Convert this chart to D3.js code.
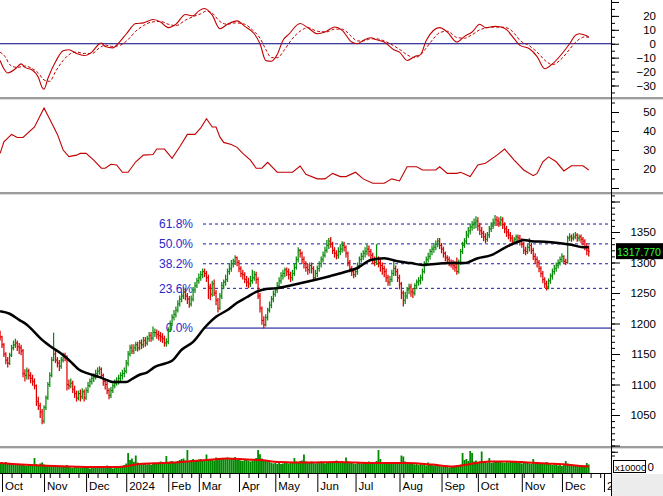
<!DOCTYPE html>
<html><head><meta charset="utf-8">
<script src="https://cdn.jsdelivr.net/npm/d3@7"></script>
<style>html,body{margin:0;padding:0;background:#fff;}svg{display:block;}</style>
</head><body><svg id="c" width="663" height="496"></svg>
<script>
// ---------- DATA (trading-day index i: -1 = 2023-09-29 ... 307 = 2024-12-20) ----------
const closes = [1178,
1165,1150,1140,1135,1148,1160,1165,1168,1162,1160,
1155,1118,1115,1122,1115,1110,1105,1098,1072,1065,
1055,1040,1062,1078,1100,1115,1140,1150,1140,1135,
1130,1140,1148,1145,1100,1098,1102,1092,1085,1078,
1085,1080,1088,1078,1090,1098,1105,1110,1112,1118,
1122,1125,1115,1105,1100,1090,1082,1090,1098,1102,
1105,1110,1115,1118,1122,1135,1150,1160,1155,1160,
1165,1160,1168,1165,1172,1168,1175,1180,1176,1185,
1185,1182,1180,1178,1175,1168,1170,1190,1200,1210,
1215,1222,1232,1240,1245,1252,1245,1240,1232,1240,
1255,1262,1270,1275,1280,1285,1282,1275,1260,1248,
1265,1250,1238,1225,1245,1262,1268,1272,1285,1290,
1298,1302,1308,1300,1290,1282,1280,1272,1268,1265,
1270,1275,1280,1272,1245,1225,1205,1198,1210,1222,
1230,1240,1248,1255,1262,1270,1278,1282,1288,1285,
1280,1275,1282,1292,1305,1320,1315,1305,1298,1292,
1288,1295,1290,1275,1282,1290,1298,1305,1312,1320,
1328,1335,1330,1320,1315,1312,1318,1322,1328,1325,
1315,1300,1290,1285,1280,1285,1295,1305,1310,1315,
1318,1322,1318,1312,1305,1300,1305,1300,1295,1290,
1285,1275,1268,1272,1282,1290,1285,1275,1265,1250,
1238,1245,1255,1260,1252,1250,1262,1268,1270,1275,
1285,1298,1305,1310,1318,1322,1325,1330,1335,1328,
1322,1315,1308,1305,1300,1298,1295,1292,1285,1300,
1318,1328,1335,1345,1352,1358,1362,1365,1368,1360,
1352,1348,1342,1338,1345,1355,1360,1365,1370,1368,
1365,1370,1362,1355,1350,1345,1340,1335,1338,1342,
1340,1335,1330,1320,1318,1325,1328,1320,1310,1305,
1300,1290,1282,1272,1265,1260,1270,1278,1285,1290,
1295,1300,1305,1310,1302,1300,1340,1342,1340,1342,
1345,1340,1342,1338,1335,1325,1320,1317.77];
const highs = [1188,
1180,1168,1153,1145,1152,1165,1172,1175,1172,1168,
1165,1158,1125,1128,1126,1120,1116,1110,1100,1080,
1070,1060,1066,1082,1104,1120,1145,1185,1155,1145,
1140,1145,1152,1152,1148,1108,1110,1106,1098,1090,
1090,1092,1094,1092,1095,1104,1110,1115,1118,1124,
1128,1130,1128,1118,1110,1104,1094,1096,1102,1108,
1112,1116,1120,1124,1128,1140,1155,1165,1166,1166,
1170,1170,1173,1174,1178,1178,1180,1186,1186,1195,
1192,1190,1188,1186,1184,1180,1176,1194,1205,1215,
1222,1228,1238,1246,1252,1260,1258,1250,1245,1246,
1260,1268,1275,1282,1286,1290,1290,1286,1280,1265,
1270,1272,1255,1242,1250,1268,1272,1280,1290,1298,
1304,1306,1312,1310,1304,1294,1288,1284,1278,1275,
1278,1288,1286,1285,1276,1250,1228,1212,1215,1226,
1236,1245,1254,1260,1268,1276,1284,1288,1292,1292,
1290,1285,1288,1298,1310,1325,1322,1318,1310,1302,
1298,1300,1300,1294,1288,1295,1302,1310,1318,1326,
1337,1340,1342,1334,1325,1320,1325,1330,1335,1334,
1328,1318,1304,1294,1290,1290,1300,1310,1316,1320,
1325,1330,1328,1322,1316,1310,1330,1310,1306,1300,
1295,1290,1280,1278,1288,1304,1295,1290,1280,1268,
1254,1252,1260,1265,1265,1258,1266,1272,1276,1280,
1290,1302,1310,1316,1322,1328,1332,1336,1340,1340,
1332,1326,1318,1312,1310,1305,1304,1302,1308,1305,
1322,1334,1340,1352,1358,1364,1368,1372,1376,1374,
1365,1358,1352,1348,1350,1360,1366,1372,1378,1376,
1374,1376,1374,1366,1360,1355,1350,1345,1342,1346,
1346,1345,1340,1334,1326,1330,1340,1332,1324,1315,
1310,1304,1294,1286,1276,1270,1274,1282,1290,1296,
1300,1305,1310,1315,1312,1306,1344,1348,1346,1348,
1350,1348,1346,1346,1342,1338,1332,1328];
const lows = [1172,
1160,1145,1133,1128,1132,1145,1156,1160,1155,1150,
1148,1112,1105,1108,1108,1102,1098,1092,1065,1058,
1045,1035,1036,1058,1075,1096,1112,1138,1135,1128,
1122,1126,1136,1138,1090,1092,1094,1086,1078,1072,
1074,1072,1076,1072,1075,1086,1095,1100,1104,1108,
1114,1116,1110,1098,1092,1084,1076,1078,1086,1094,
1098,1100,1104,1108,1112,1118,1130,1146,1150,1150,
1155,1154,1156,1158,1160,1162,1164,1170,1170,1172,
1178,1175,1172,1170,1168,1162,1162,1166,1186,1196,
1205,1210,1218,1228,1235,1240,1238,1232,1226,1228,
1236,1250,1258,1265,1270,1274,1276,1268,1240,1238,
1244,1245,1230,1218,1222,1240,1256,1262,1268,1280,
1285,1292,1296,1294,1284,1276,1272,1266,1260,1258,
1260,1265,1270,1265,1240,1218,1198,1192,1195,1205,
1218,1225,1235,1244,1250,1258,1265,1272,1276,1278,
1272,1268,1270,1278,1288,1300,1308,1298,1290,1285,
1280,1282,1282,1270,1272,1276,1285,1292,1300,1308,
1316,1322,1324,1314,1308,1305,1306,1312,1316,1318,
1308,1294,1284,1278,1274,1276,1280,1290,1300,1304,
1308,1312,1310,1305,1298,1294,1296,1292,1285,1280,
1276,1268,1262,1262,1268,1278,1278,1268,1256,1240,
1228,1232,1240,1248,1244,1242,1246,1256,1262,1264,
1270,1282,1294,1300,1305,1312,1316,1320,1325,1322,
1315,1308,1302,1298,1294,1292,1288,1285,1280,1282,
1296,1314,1324,1330,1340,1346,1352,1355,1356,1352,
1345,1340,1335,1332,1334,1340,1350,1355,1360,1360,
1358,1360,1355,1348,1342,1338,1334,1328,1330,1332,
1334,1328,1324,1314,1312,1314,1318,1314,1304,1298,
1292,1284,1276,1266,1258,1254,1256,1265,1272,1280,
1285,1290,1295,1300,1298,1296,1298,1335,1334,1336,
1338,1334,1335,1332,1328,1320,1312,1310];
const firstOpen = 1185;
const volumes = [40,
42,36,44,38,36,40,38,34,36,34,
32,36,30,28,32,30,28,60,36,30,
38,42,34,30,28,30,26,24,30,28,
26,24,28,26,32,24,22,20,24,26,
24,20,26,22,28,20,18,24,22,26,
22,20,24,28,25,30,23,20,18,22,
20,24,26,28,32,38,80,52,58,45,
70,42,38,35,40,36,34,38,32,40,
40,38,42,46,44,44,68,42,46,48,
44,42,48,52,56,58,50,92,48,52,
56,50,50,54,56,48,52,74,56,54,
52,50,62,54,56,58,60,58,62,56,
58,60,64,54,52,50,48,52,54,50,
46,50,54,60,92,75,58,52,48,46,
44,40,38,40,36,40,36,38,42,40,
38,44,42,60,46,44,48,50,74,46,
44,42,46,40,38,42,44,46,40,38,
42,40,44,46,48,50,46,44,48,44,
62,46,44,40,38,36,40,42,38,40,
42,44,46,40,38,44,48,92,56,44,
40,42,38,40,36,38,40,42,44,70,
66,46,42,40,36,38,34,36,32,36,
34,32,30,42,36,32,30,34,30,28,
26,24,28,26,22,24,26,24,28,30,
34,80,52,56,48,88,80,46,50,44,
46,86,48,44,42,60,40,42,44,46,
44,46,42,40,44,42,46,44,48,44,
42,40,38,44,40,40,38,36,56,38,
40,42,38,36,40,44,38,34,32,34,
32,30,34,28,32,48,38,34,32,30,
30,28,32,26,28,30,40,34];

// moving average of price (black line), read at sample days
const maDay = [-1,4,9,13,16,20,23,26,30,34,37,40,44,47,51,55,58,61,65,68,72,76,80,86,89,94,100,106,112,118,123,128,133,139,144,149,156,163,172,179,186,193,200,207,214,220,228,235,242,249,256,263,270,273,277,284,291,298,304,307];
const maVal = [1220,1216,1206,1198,1189,1176,1168,1161,1153,1143,1134,1125,1119,1116,1112,1107,1104,1104,1104,1109,1116,1120,1129,1135,1139,1157,1170,1193,1211,1222,1234,1243,1252,1257,1258,1261,1266,1271,1278,1284,1291,1304,1307,1302,1299,1296,1298,1299,1299,1307,1312,1324,1334,1337,1335,1334,1332,1329,1325,1325];

// oscillator (top panel): solid line and dashed signal line
const macdDay = [-1,1,3,7,10,12,16,19,21,22,24,28,32,35,39,43,47,51,52,54,58,61,65,70,74,79,83,87,91,96,100,103,106,110,114,118,123,127,132,135,138,141,144,147,150,156,160,165,169,174,178,183,186,189,193,196,200,205,208,212,216,219,222,229,233,238,242,246,250,253,258,261,264,268,271,276,280,284,288,293,297,300,302,304,307];
const macdVal = [-12,-18,-21,-18,-14.5,-17,-19,-24,-31.4,-32.6,-25,-13,-5,-4.3,-7,-8.5,-6,0,0.5,-2,-3,0.5,7,14.5,15,17.4,15.6,11.6,14,21,20,23.6,25.3,20.5,10.8,14,16.4,12.5,7.2,0,-12,-12.6,-7.8,2.4,6.7,14.5,11.6,7.2,8.4,12,9.6,1.2,0,2.4,4.3,2.9,1.2,-4.3,-6,-12,-9.2,-7.8,2.4,11.6,8.4,1.2,5.3,8.4,14,11.6,12.5,12,10.1,3.6,-1.2,-3.6,-9.2,-18,-14.5,-7.2,0,6,7.2,6.7,5];
const sigDay = [-1,2,4,8,12,16,19,22,25,28,32,36,39,43,47,51,54,58,62,66,70,74,78,83,87,91,96,100,104,107,110,114,118,122,127,131,135,138,141,144,148,151,156,160,165,170,174,178,183,186,189,193,196,200,205,208,212,216,219,222,226,229,233,238,242,246,250,254,258,261,265,268,271,276,280,285,288,293,297,300,303,305,307];
const sigVal = [-6,-10,-15,-17,-16,-18,-21,-26,-27,-20,-12,-7,-6,-7,-7,-3,-1,-2,-1,3,9,13,15.5,16,14,13,17,19.5,21.5,23.5,22,16,14,15,14,10,4,-4,-10,-10,-4,2,9,11.5,9,8.5,10.5,10.5,5,2,2,3.5,3.5,2,-1.5,-4,-8,-10,-8,-3,4,8,9,4.5,4,6.5,10,11.5,12,12,11,7.5,2.5,-1.5,-6,-13,-15,-10.5,-4,1,4,5,4.5];

// trend-strength line (second panel)
const adxDay = [-1,1,5,8,11,17,22,25,29,32,35,39,41,44,48,52,54,57,60,63,66,70,74,79,81,85,89,93,97,101,104,107,110,112,114,116,120,123,126,130,133,136,139,144,152,156,159,165,169,173,177,180,185,189,194,200,204,208,212,217,220,227,229,233,238,240,245,249,253,259,263,268,273,278,280,283,286,290,294,298,304,307];
const adxVal = [28.2,34.3,38.2,36.6,36.6,42.1,52.1,46.2,38.2,30,26.5,27.3,28.2,28.2,24.7,20.4,20.4,22.5,22.1,18.3,18.3,23.8,27.3,27.6,30.5,30.5,25.6,31.7,38.2,38.2,41.6,46.5,42.1,42.1,36.9,34,32.9,31.4,28.2,24.7,20.4,20.4,23.5,18.3,18.3,21.6,17.2,14.8,14.8,17.7,16,16,18.3,14.8,12.5,12.5,14.8,13.7,21.2,21.2,19.5,19.5,21.2,17.7,17.7,18.3,16,22.1,23,27.3,30.5,24.7,19.5,16.5,17.7,23.8,26.4,23.8,19,21.7,21.7,19.5];

// volume moving average (red line in volume panel)
const vmaDay = [-1,10,20,35,50,60,66,72,85,97,107,118,128,135,145,160,175,185,200,212,225,236,245,255,265,275,285,295,300,307];
const vmaVal = [40,34,30,26,24,24,28,36,40,46,52,58,54,52,44,42,44,42,40,40,34,26,36,46,46,42,38,34,30,26];

// Fibonacci retracement
const fibLow = 1192.5, fibHigh = 1468.5;
const fibRatios = [0, 0.236, 0.382, 0.5, 0.618];
const fibLabels = ["0.0%", "23.6%", "38.2%", "50.0%", "61.8%"];

// axis tick labels
const macdTicks = [-30,-20,-10,0,10,20];
const adxTicks = [20,30,40,50];
const priceTicks = [1050,1100,1150,1200,1250,1300,1350];
const lastPriceLabel = "1317.770";
const volUnit = "x10000";
const monthNames = ["Jan","Feb","Mar","Apr","May","Jun","Jul","Aug","Sep","Oct","Nov","Dec"];
const holidays = ["2024-01-01","2024-02-08","2024-02-09","2024-02-12","2024-02-13","2024-02-14","2024-04-18","2024-04-29","2024-04-30","2024-05-01","2024-09-02","2024-09-03"];

// ---------- DRAWING ----------
const FONT = '"Liberation Sans", Arial, sans-serif';
const svg = d3.select("#c");
const AX = 611;
const N = closes.length;
const opens = [firstOpen].concat(closes.slice(0, N - 1)); // session open = previous close

// trading calendar (categories)
const fmt = d3.utcFormat("%Y-%m-%d");
const hol = new Set(holidays);
const days = [];
for (let t = Date.UTC(2023, 8, 29); t <= Date.UTC(2025, 0, 3); t += 864e5) {
  const d = new Date(t), wd = d.getUTCDay();
  if (wd === 0 || wd === 6) continue;
  if (d < Date.UTC(2024, 11, 21) && hol.has(fmt(d))) continue;
  days.push(d);
}
const dayIdx = k => k - 1;

const x = d3.scaleLinear().domain([0, 307]).range([2, 588.7]);
const yM = d3.scaleLinear().domain([-30, 20]).range([85.5, 15.9]);
const yA = d3.scaleLinear().domain([20, 50]).range([169, 112]);
const yP = d3.scaleLinear().domain([1050, 1350]).range([415, 232]);
const yV = d3.scaleLinear().domain([0, 100]).range([473, 448]);

const defs = svg.append("defs");
function clip(id, x0, y0, w, h) {
  defs.append("clipPath").attr("id", id).append("rect").attr("x", x0).attr("y", y0).attr("width", w).attr("height", h);
  return svg.append("g").attr("clip-path", `url(#${id})`);
}
const gM = clip("cm", 0, 0, AX, 97);
const gA = clip("ca", 0, 100, AX, 92);
const gP = clip("cp", 0, 195, AX, 251);
const gV = clip("cv", 0, 448, AX, 25);

// --- top oscillator
gM.append("line").attr("x1", 0).attr("x2", AX).attr("y1", yM(0)).attr("y2", yM(0)).attr("stroke", "#000080").attr("stroke-width", 1);
const lineM = d3.line().x(d => x(d[0])).y(d => yM(d[1])).curve(d3.curveMonotoneX);
gM.append("path").attr("d", lineM(sigDay.map((d, i) => [d, sigVal[i]]))).attr("fill", "none").attr("stroke", "#c00000").attr("stroke-width", 1).attr("stroke-dasharray", "3,2");
gM.append("path").attr("d", lineM(macdDay.map((d, i) => [d, macdVal[i]]))).attr("fill", "none").attr("stroke", "#c00000").attr("stroke-width", 1.1);

// --- second panel
const lineA = d3.line().x(d => x(d[0])).y(d => yA(d[1]));
gA.append("path").attr("d", lineA(adxDay.map((d, i) => [d, adxVal[i]]))).attr("fill", "none").attr("stroke", "#c00000").attr("stroke-width", 1.1);

// --- price panel: fibonacci
fibRatios.forEach((r, j) => {
  const v = fibLow + r * (fibHigh - fibLow);
  const yy = yP(v);
  gP.append("line").attr("x1", 203).attr("x2", AX).attr("y1", yy).attr("y2", yy)
    .attr("stroke", r === 0 ? "#000090" : "#1a1aa0").attr("stroke-width", 1)
    .attr("stroke-dasharray", r === 0 ? null : "3,3");
  gP.append("text").attr("x", 193).attr("y", yy).attr("dy", "0.35em").attr("text-anchor", "end")
    .attr("font-family", FONT).attr("font-size", 12).attr("fill", "#2828c8").text(fibLabels[j]);
});

// OHLC bars
const bars = gP.append("g");
for (let k = 0; k < N; k++) {
  const i = dayIdx(k), xx = x(i);
  const up = closes[k] >= opens[k];
  const col = up ? "#0a8a0a" : "#e00000";
  bars.append("line").attr("x1", xx).attr("x2", xx).attr("y1", yP(highs[k])).attr("y2", yP(lows[k])).attr("stroke", col).attr("stroke-width", 1.25);
  bars.append("line").attr("x1", xx - 1.1).attr("x2", xx).attr("y1", yP(opens[k])).attr("y2", yP(opens[k])).attr("stroke", col).attr("stroke-width", 1);
  bars.append("line").attr("x1", xx).attr("x2", xx + 1.2).attr("y1", yP(closes[k])).attr("y2", yP(closes[k])).attr("stroke", col).attr("stroke-width", 1);
}
// moving average
gP.append("path").attr("d", d3.line().x(d => x(d[0])).y(d => yP(d[1])).curve(d3.curveMonotoneX)(maDay.map((d, i) => [d, maVal[i]])))
  .attr("fill", "none").attr("stroke", "#000").attr("stroke-width", 2.5);

// --- volume
gV.selectAll("rect.v").data(volumes).join("rect").attr("class", "v")
  .attr("x", (d, k) => x(dayIdx(k)) - 0.9).attr("width", 1.8)
  .attr("y", d => yV(d)).attr("height", d => yV(0) - yV(d)).attr("fill", "#008a00");
gV.append("path").attr("d", d3.line().x(d => x(d[0])).y(d => yV(d[1])).curve(d3.curveMonotoneX)(vmaDay.map((d, i) => [d, vmaVal[i]])))
  .attr("fill", "none").attr("stroke", "#ee0000").attr("stroke-width", 2);

// --- separators
[[97], [192], [446]].forEach(([yy]) => {
  svg.append("rect").attr("x", 0).attr("y", yy).attr("width", 663).attr("height", 2).attr("fill", "#9c9c9c");
  svg.append("rect").attr("x", 0).attr("y", yy + 2).attr("width", 663).attr("height", 1).attr("fill", "#dcdcdc");
});

// --- right axes
function rightAxis(scale, majors, minors, fmtf, minorLen, majorLen) {
  const g = svg.append("g").attr("transform", `translate(${AX},0)`);
  g.append("g").call(d3.axisRight(scale).tickValues(minors).tickSize(minorLen || 4).tickFormat(""));
  const gm = g.append("g").call(d3.axisRight(scale).tickValues(majors).tickSize(majorLen || 8).tickFormat(fmtf || d3.format("d")));
  g.selectAll(".domain").remove();
  g.selectAll("line").attr("stroke", "#000");
  gm.selectAll("text").attr("x", 45).attr("text-anchor", "end").attr("font-size", 11.5).attr("font-family", FONT).attr("fill", "#000");
  return g;
}
rightAxis(yM, macdTicks.concat([30]), d3.range(-35, 31, 5), d => d === 30 ? "" : d3.format("d")(d));
rightAxis(yA, adxTicks.concat([10]), d3.range(10, 56, 5), d => d === 10 ? "" : d3.format("d")(d));
rightAxis(yP, priceTicks.concat([1000, 1400]), d3.range(1000, 1411, 10), d => (d === 1000 || d === 1400) ? "" : d3.format("d")(d), 4, 9);
rightAxis(yV, [85], [70, 85], () => "", 4, 7);
svg.append("line").attr("x1", AX + 0.5).attr("x2", AX + 0.5).attr("y1", 0).attr("y2", 496).attr("stroke", "#000");

// volume unit label (box) and the visible tail of the tick label behind it
svg.append("rect").attr("x", 613.5).attr("y", 460.5).attr("width", 32).attr("height", 12).attr("fill", "#fff").attr("stroke", "#000");
svg.append("text").attr("x", 615).attr("y", 470.5).attr("font-family", FONT).attr("font-size", 9.5).text(volUnit);
svg.append("text").attr("x", 647.5).attr("y", 471).attr("font-family", FONT).attr("font-size", 11.5).text("0");

// last price label
const lp = yP(closes[N - 1]);
svg.append("rect").attr("x", 616).attr("y", lp - 8.5).attr("width", 47).attr("height", 16).attr("fill", "#000");
svg.append("text").attr("x", 617).attr("y", lp + 4).attr("font-family", FONT).attr("font-size", 11)
  .attr("textLength", 44).attr("lengthAdjust", "spacingAndGlyphs").attr("fill", "#33ff33").text(lastPriceLabel);

// --- bottom time axis
svg.append("rect").attr("x", 612).attr("y", 474).attr("width", 51).attr("height", 22).attr("fill", "#ececec");
const monthK = [], weekK = [];
for (let k = 1; k < days.length; k++) {
  if (days[k].getUTCMonth() !== days[k - 1].getUTCMonth()) monthK.push(k);
  else if (days[k].getUTCDay() < days[k - 1].getUTCDay()) weekK.push(k);
}
const gX = clip("cx", 0, 473, 612, 23);
gX.append("g").attr("transform", "translate(0,473)")
  .call(d3.axisBottom(x).tickValues(weekK.map(dayIdx)).tickSize(5).tickFormat(""));
const gmx = gX.append("g").attr("transform", "translate(0,473)")
  .call(d3.axisBottom(x).tickValues(monthK.map(dayIdx)).tickSize(19).tickFormat(i => {
    const d = days[i + 1]; const m = d.getUTCMonth();
    return m === 0 ? String(d.getUTCFullYear()) : monthNames[m];
  }));
gX.selectAll(".domain").remove();
gX.selectAll("line").attr("stroke", "#000");
gmx.selectAll("text").attr("y", 17).attr("dy", 0).attr("dx", 2.5).attr("text-anchor", "start")
  .attr("font-size", 11.5).attr("font-family", FONT).attr("fill", "#000");
svg.append("line").attr("x1", 0).attr("x2", AX).attr("y1", 473.5).attr("y2", 473.5).attr("stroke", "#000");
</script>
</body></html>
